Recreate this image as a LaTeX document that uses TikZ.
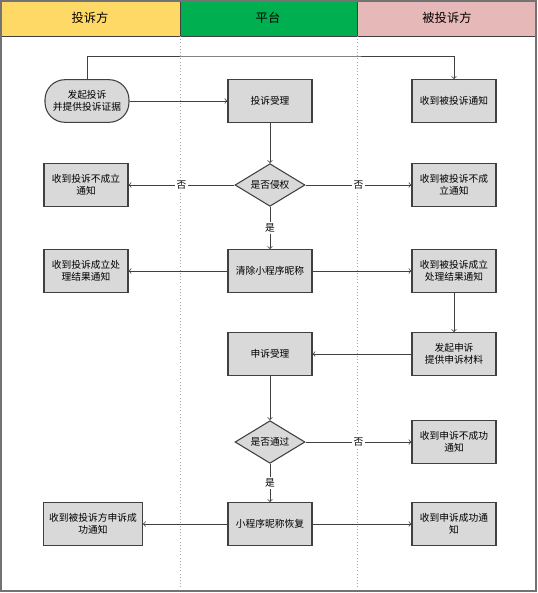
\documentclass[tikz,border=0pt]{standalone}
\usepackage{fontspec}
\newfontfamily\cjk{Noto Sans CJK SC}
\usetikzlibrary{shapes.geometric}
\definecolor{laneyellow}{RGB}{255,217,102}
\definecolor{lanegreen}{RGB}{0,176,80}
\definecolor{lanepink}{RGB}{230,184,183}
\definecolor{boxgray}{RGB}{217,217,217}
\definecolor{edgegray}{RGB}{64,64,64}
\begin{document}
\begin{tikzpicture}[x=0.75pt,y=-0.75pt,
  font=\cjk\fontsize{7.3}{9.2}\selectfont,
  procbox/.style={draw=edgegray,fill=boxgray,line width=0.8pt,minimum width=63pt,minimum height=32pt,align=center,inner sep=2pt},
  startbox/.style={procbox,rounded corners=15pt},
  decbox/.style={diamond,draw=edgegray,fill=boxgray,line width=0.8pt,aspect=1.6,minimum width=52.5pt,minimum height=32pt,inner sep=1pt},
  flow/.style={->,draw=edgegray,line width=0.6pt},
  tag/.style={fill=white,inner sep=1pt},
  lanehead/.style={font=\cjk\fontsize{9.2}{11}\selectfont}]
\useasboundingbox (0,0) rectangle (538,593);

% lanes
\draw[edgegray,fill=laneyellow] (1,1) rectangle (180,36);
\draw[edgegray,fill=lanegreen] (180,1) rectangle (357,36);
\draw[edgegray,fill=lanepink] (357,1) rectangle (536,36);
\node[lanehead] (headA) at (90,18) {投诉方};
\node[lanehead] (headP) at (268,18) {平台};
\node[lanehead] (headB) at (447,18) {被投诉方};
\draw[dotted,gray!70] (180,36) -- (180,591);
\draw[dotted,gray!70] (357,36) -- (357,591);
\draw[gray!90!black,line width=1pt] (1,1) rectangle (536,591);

% complaint
\node[startbox] (start) at (87,101) {发起投诉\\并提供投诉证据};
\node[procbox] (accept) at (270,101) {投诉受理};
\node[procbox] (notifyB) at (454,101) {收到被投诉通知};
\node[decbox] (infringe) at (270,185) {是否侵权};
\node[procbox] (failA) at (86,185) {收到投诉不成立\\通知};
\node[procbox] (failB) at (454,185) {收到被投诉不成\\立通知};
\node[procbox] (clear) at (270,271) {清除小程序昵称};
\node[procbox] (okA) at (86,271) {收到投诉成立处\\理结果通知};
\node[procbox] (okB) at (454,271) {收到被投诉成立\\处理结果通知};

% appeal
\node[procbox] (appeal) at (454,354) {发起申诉\\提供申诉材料};
\node[procbox] (review) at (270,354) {申诉受理};
\node[decbox] (pass) at (270,442) {是否通过};
\node[procbox] (rejectB) at (454,442) {收到申诉不成功\\通知};
\node[procbox] (restore) at (270,524) {小程序昵称恢复};
\node[procbox,minimum width=74pt] (winA) at (93,524) {收到被投诉方申诉成\\功通知};
\node[procbox] (winB) at (454,524) {收到申诉成功通\\知};

\coordinate (loopline) at (270,56);
\draw[flow] (start.north) |- (loopline) -| (notifyB.north);
\draw[flow] (start) -- (accept);
\draw[flow] (accept) -- (infringe);
\draw[flow] (infringe) -- (failA) node[tag,pos=0.5] {否};
\draw[flow] (infringe) -- (failB) node[tag,pos=0.5] {否};
\draw[flow] (infringe) -- (clear) node[tag,pos=0.5] {是};
\draw[flow] (clear) -- (okA);
\draw[flow] (clear) -- (okB);
\draw[flow] (okB) -- (appeal);
\draw[flow] (appeal) -- (review);
\draw[flow] (review) -- (pass);
\draw[flow] (pass) -- (rejectB) node[tag,pos=0.5] {否};
\draw[flow] (pass) -- (restore) node[tag,pos=0.5] {是};
\draw[flow] (restore) -- (winA);
\draw[flow] (restore) -- (winB);
\end{tikzpicture}
\end{document}
